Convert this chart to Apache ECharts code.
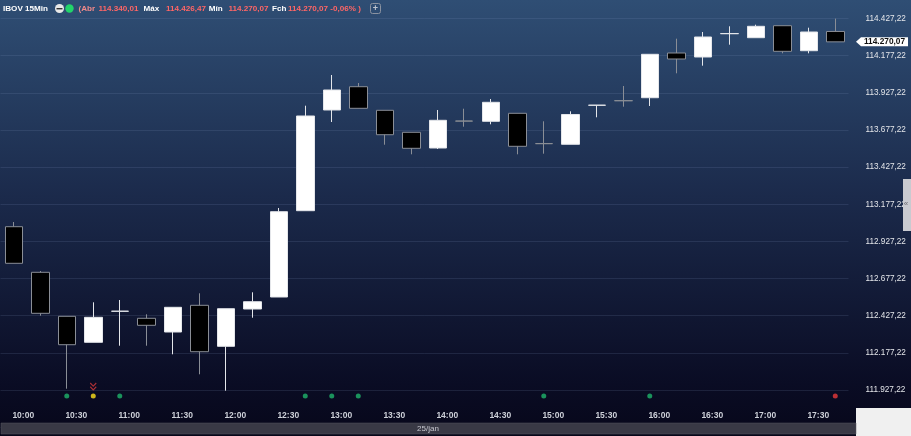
<!DOCTYPE html>
<html>
<head>
<meta charset="utf-8">
<script src="https://cdn.jsdelivr.net/npm/echarts@6/dist/echarts.min.js"></script>
<style>
html,body{margin:0;padding:0;background:#f0f0f0;}
#c{width:911px;height:436px;}
</style>
</head>
<body>
<div id="c"></div>
<script>
const categories = ['10:00','10:15','10:30','10:45','11:00','11:15','11:30','11:45','12:00','12:15','12:30','12:45','13:00','13:15','13:30','13:45','14:00','14:15','14:30','14:45','15:00','15:15','15:30','15:45','16:00','16:15','16:30','16:45','17:00','17:15','17:30','17:45'];
const opens  = [113026.1,112719.3,112423.2,112248.2,112456.8,112409.7,112317.5,112497.2,112221.3,112472.3,112553.0,113133.8,113811.5,113968.2,113809.4,113661.4,113555.7,113737.4,113735.4,113789.2,113585.7,113580.6,113843.1,113874.5,113894.2,114195.0,114168.1,114324.9,114298.0,114378.7,114210.5,114340.01];
const closes = [112779.8,112443.3,112232.0,112416.4,112457.8,112362.6,112483.7,112184.9,112474.3,112521.4,113127.1,113771.1,113946.0,113822.9,113645.2,113553.7,113742.1,113736.4,113863.3,113567.2,113584.7,113781.2,113844.1,113873.5,114186.3,114154.7,114302.7,114325.9,114374.7,114206.5,114336.4,114270.07];
const lows   = [112779.8,112427.2,111935.9,112248.2,112225.3,112225.3,112167.4,112032.8,111922.5,112413.7,112553.0,113133.8,113730.7,113822.9,113577.9,113513.3,113549.0,113699.1,113715.2,113513.3,113517.4,113580.6,113762.3,113833.7,113838.4,114058.4,114109.6,114250.9,114298.0,114193.0,114193.0,114270.07];
const highs  = [113057.7,112728.0,112423.2,112517.4,112532.8,112436.6,112483.7,112577.9,112474.3,112584.7,113152.0,113840.4,114047.0,113993.1,113809.4,113661.4,113811.5,113820.2,113885.5,113789.2,113735.4,113802.7,113844.1,113973.0,114186.3,114291.3,114336.4,114374.7,114385.5,114378.7,114365.3,114426.47];
const eventIdx   = [2,3,4,11,12,13,20,24,31];
const eventKinds = ['green','yellow','green','green','green','green','green','green','red'];
const alertIdx = [3];
const yTickStart = 111677.22, yTickEnd = 114427.22, yStep = 250;
const headerTitle = 'IBOV 15Min';
const headerAbr = '114.340,01', headerMax = '114.426,47', headerMin = '114.270,07', headerFch = '114.270,07 -0,06% )';
const dateLabel = '25/jan';

function fmt(v){
  const s = Number(v).toFixed(2);
  let [i,d] = s.split('.');
  i = i.replace(/\B(?=(\d{3})+(?!\d))/g,'.');
  return i + ',' + d;
}
const kindColor = {green:'#1fb46c', yellow:'#ffe21a', red:'#e8383a'};
const markerLevel = 111886.8, alertLevel = 111951;

const chart = echarts.init(document.getElementById('c'), null, {renderer:'canvas'});
const candleData = categories.map((c,i)=>[opens[i],closes[i],lows[i],highs[i]]);
const FONT = 'Liberation Sans';

chart.setOption({
  animation:false,
  grid:{left:0.5, right:62.5, top:18.5, bottom:436-427.15, containLabel:false},
  xAxis:{
    type:'category', data:categories, boundaryGap:true,
    axisLine:{show:false}, axisTick:{show:false}, splitLine:{show:false},
    axisLabel:{inside:true, margin:6.5, interval:1, color:'#cdd0d8', fontSize:8.5, fontWeight:'bold', fontFamily:FONT, padding:[0,0,0,19]}
  },
  yAxis:{
    type:'value', position:'right', min:yTickStart, max:yTickEnd, interval:yStep, scale:true,
    axisLine:{show:false}, axisTick:{show:false},
    splitLine:{show:true, lineStyle:{color:'rgba(130,150,190,0.16)', width:1}},
    axisLabel:{showMinLabel:false, margin:17, color:'#e4e6ea', fontSize:8.2, fontFamily:FONT, formatter:fmt}
  },
  series:[
    {type:'candlestick', data:candleData, barWidth:18,
     itemStyle:{color:'#ffffff', color0:'#000000', borderColor:'#e4e6ea', borderColor0:'#8a8e96', borderWidth:1}},
    {type:'scatter', symbol:'circle', symbolSize:5, z:5,
     data:eventIdx.map((i,k)=>({value:[categories[i], markerLevel], itemStyle:{color:kindColor[eventKinds[k]]}}))},
    {type:'scatter', z:5, symbol:'path://M0,0 L3,3 L6,0 M0,3.5 L3,6.5 L6,3.5', symbolSize:[6,7],
     itemStyle:{color:'none', borderColor:'#d83a3a', borderWidth:1.2},
     data:alertIdx.map(i=>[categories[i], alertLevel])}
  ]
});

const lastClose = closes[closes.length-1];
const py = chart.convertToPixel({yAxisIndex:0}, lastClose);

function txt(x, text, color, bold){
  return {type:'text', z:100, x:x, y:9, style:{text:text, fill:color, font:(bold?'bold ':'')+'8.1px "'+FONT+'"', textVerticalAlign:'middle', textAlign:'left'}};
}

chart.setOption({
  graphic:[
    {type:'rect', z:-100, shape:{x:0,y:0,width:911,height:436},
     style:{fill:new echarts.graphic.LinearGradient(0,0,0,1,[
       {offset:0,color:'#2f4e74'},{offset:0.45,color:'#1b2a4b'},{offset:0.88,color:'#0a0c24'},{offset:1,color:'#07071a'}])}},
    {type:'rect', z:50, shape:{x:856,y:408,width:55,height:28}, style:{fill:'#f0f0f0'}},
    {type:'rect', z:50, shape:{x:1,y:423,width:855,height:11}, style:{fill:'#393945', stroke:'#55555f', lineWidth:0.5}},
    {type:'text', z:51, x:428, y:428.5, style:{text:dateLabel, fill:'#c8c8d0', font:'8px "'+FONT+'"', textAlign:'center', textVerticalAlign:'middle'}},
    {type:'rect', z:50, shape:{x:903,y:179,width:8,height:52}, style:{fill:'#c9cad0'}},
    {type:'text', z:51, x:906, y:204, style:{text:'«', fill:'#6a6a70', font:'8px "'+FONT+'"', textAlign:'center', textVerticalAlign:'middle'}},
    txt(3, headerTitle, '#ffffff', true),
    {type:'circle', z:100, shape:{cx:59.5,cy:8.5,r:4.5}, style:{fill:'#e8e8e8'}},
    {type:'rect', z:101, shape:{x:56.5,y:8,width:6,height:1.4}, style:{fill:'#333'}},
    {type:'circle', z:100, shape:{cx:69.5,cy:8.5,r:4.2}, style:{fill:'#22d46a'}},
    txt(78.5, '(Abr', '#f08a8a', true),
    txt(98.5, headerAbr, '#ff6666', true),
    txt(143.5, 'Máx', '#ffffff', true),
    txt(166, headerMax, '#ff6666', true),
    txt(208.8, 'Mín', '#ffffff', true),
    txt(228.5, headerMin, '#ff6666', true),
    txt(272, 'Fch', '#ffffff', true),
    txt(288, headerFch, '#ff6666', true),
    {type:'rect', z:100, shape:{x:370.5,y:3.5,width:10,height:10,r:2}, style:{fill:'none', stroke:'#8a92a0', lineWidth:1}},
    {type:'text', z:100, x:375.5, y:8.8, style:{text:'+', fill:'#c0c6d0', font:'bold 9px "'+FONT+'"', textAlign:'center', textVerticalAlign:'middle'}},
    {type:'polygon', z:100, shape:{points:[[856,py],[861,py-4.5],[908,py-4.5],[908,py+4.5],[861,py+4.5]]}, style:{fill:'#ffffff'}},
    {type:'text', z:101, x:884.5, y:py, style:{text:fmt(lastClose), fill:'#111111', font:'bold 8.3px "'+FONT+'"', textAlign:'center', textVerticalAlign:'middle'}}
  ]
});
</script>
</body>
</html>
